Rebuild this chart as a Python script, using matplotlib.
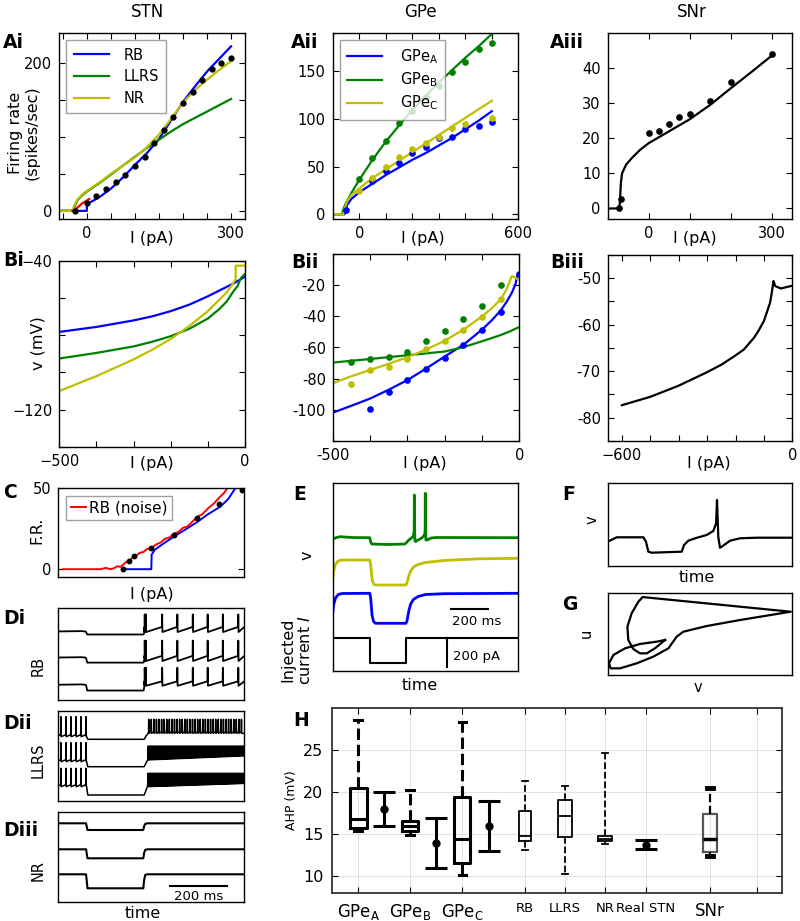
import numpy as np
import matplotlib
matplotlib.use("Agg")
import matplotlib.pyplot as plt

plt.rcParams['font.family'] = ['DejaVu Sans']

# ======================= DATA =======================
# --- Ai: STN f-I curves ---
stn_dot_I = [-25, 0, 20, 40, 60, 80, 100, 120, 140, 160, 180, 200, 220, 240, 260, 280, 300]
stn_dot_F = [0, 10, 20, 30, 39, 49, 60, 73, 91, 109, 127, 146, 160, 177, 192, 200, 206]
rb_I = [-60, 0, 0, 25, 50, 75, 100, 125, 150, 175, 200, 225, 250, 275, 300]
rb_F = [0, 0, 9, 18, 30, 45, 62, 78, 97, 122, 147, 168, 188, 205, 222]
llrs_I = [-60, -28, -25, -20, -10, 0, 25, 50, 75, 100, 125, 150, 175, 200, 250, 300]
llrs_F = [0, 0, 6, 14, 21, 26, 37, 49, 61, 73, 85, 96, 107, 117, 134, 151]
nr_I = [-60, -30, -27, -20, -10, 0, 25, 50, 75, 100, 125, 150, 175, 200, 225, 250, 275, 300]
nr_F = [0, 0, 6, 15, 22, 27, 38, 50, 61, 72, 86, 103, 124, 146, 163, 177, 190, 202]
red_I = [-30, -25, -20, -15, -10, -5, 0, 5]
red_F = [0, 1, 4, 7, 10, 12, 14, 16]

# --- Aii: GPe f-I curves ---
gpe_dot_I_A = [-50, 50, 100, 150, 200, 250, 300, 350, 400, 450, 500]
gpe_dot_F_A = [4, 35, 45, 53.5, 64.5, 70, 80, 81, 89, 93, 97]
gpe_dot_I_B = [0, 50, 100, 150, 200, 250, 300, 350, 400, 450, 500]
gpe_dot_F_B = [37, 58.6, 77, 95.5, 108, 122.8, 134.5, 149, 160, 173, 180]
gpe_dot_I_C = [0, 50, 100, 150, 200, 250, 300, 350, 400, 500]
gpe_dot_F_C = [24, 38, 49.5, 60, 68, 75, 81, 90, 94.5, 101]
gpeA_I = [-100, -55, -52, -45, -30, 0, 50, 100, 150, 200, 250, 300, 350, 400, 450, 500]
gpeA_F = [0, 0, 4, 10, 16, 23, 32, 41, 49, 57, 64, 72, 80, 89, 98, 108]
gpeB_I = [-100, -65, -60, -50, -30, 0, 50, 100, 150, 200, 250, 300, 350, 400, 450, 500]
gpeB_F = [0, 0, 5, 12, 22, 36, 57, 76, 93, 109, 124, 138, 151, 164, 176, 189]
gpeC_I = [-100, -60, -55, -45, -30, 0, 50, 100, 150, 200, 250, 300, 350, 400, 450, 500]
gpeC_F = [0, 0, 6, 14, 20, 27, 38, 47, 56, 65, 74, 83, 92, 101, 110, 119]

# --- Aiii: SNr f-I ---
snr_dot_I = [-72, -68, 0, 25, 50, 75, 100, 150, 200, 300]
snr_dot_F = [0, 2.6, 21.5, 22, 24, 26, 27, 30.5, 36, 44]
snr_I = [-100, -72, -70, -68, -65, -55, -40, -20, 0, 50, 100, 150, 200, 250, 300]
snr_F = [0, 0, 2, 7, 10, 12.5, 14.5, 16.8, 18.6, 22, 25.4, 29.5, 34.2, 38.8, 43.5]

# --- Bi: STN V-I ---
bi_rb_I = [-500, -400, -300, -250, -200, -150, -100, -70, -50, -30, 0]
bi_rb_V = [-78.2, -75.5, -72, -69.8, -67, -63.5, -59, -56, -54, -52, -48.4]
bi_llrs_I = [-500, -400, -300, -250, -200, -150, -100, -70, -50, -30, -20, -15, -10, 0]
bi_llrs_V = [-92.5, -89.5, -86, -83.5, -80.5, -76.5, -71, -66, -62, -56, -53.5, -51, -49, -47]
bi_nr_I = [-500, -400, -300, -250, -200, -150, -100, -70, -50, -30, -25, -25, 0]
bi_nr_V = [-110, -102, -93, -87.8, -82, -75, -67, -61, -57, -51.5, -49.5, -42.5, -42.5]

# --- Bii: GPe V-I ---
bii_dot_I = [-450, -400, -350, -300, -250, -200, -150, -100, -50]
bii_dot_V_B = [-69.5, -67.6, -66.3, -63, -56, -49.4, -41.6, -33.6, -20]
bii_dot_V_C = [-83.8, -74.5, -72.8, -67.4, -61, -55.7, -49, -40.3, -29]
bii_dot_I_A = [-400, -350, -300, -250, -200, -150, -100, -50, 0]
bii_dot_V_A = [-99.8, -88.5, -81, -73.8, -66.5, -58.7, -48.5, -36.9, -13]
bii_A_I = [-500, -450, -400, -350, -300, -250, -200, -150, -100, -75, -50, -35, -20, -10, -5, 0]
bii_A_V = [-102, -97.5, -92.9, -87.2, -81, -73.6, -65.8, -58.3, -48.5, -42.8, -36.2, -31, -24.8, -19, -13, -14]
bii_B_I = [-500, -400, -300, -200, -150, -100, -50, -25, 0]
bii_B_V = [-69.7, -67.4, -65, -62.6, -59.8, -56, -52, -49.6, -46.8]
bii_C_I = [-500, -450, -400, -350, -300, -250, -200, -150, -100, -75, -50, -35, -20, 0]
bii_C_V = [-83, -78.5, -74.5, -70.5, -66.3, -61.3, -55.7, -48.5, -40, -35, -29, -23, -14, -16.5]

# --- Biii: SNr V-I ---
biii_I = [-600, -500, -400, -300, -250, -200, -170, -135, -120, -100, -90, -78, -72, -67, -66,
          -60, -40, 0]
biii_V = [-77.3, -75.5, -73.1, -70.2, -68.6, -66.6, -65.3, -62.8, -61.4, -59.2, -57.4, -55.2,
          -53, -50.9, -50.6, -51.7, -52.2, -51.6]

# --- C: RB with noise ---
c_dot_I = [-25, -20, -15, 0, 20, 40, 60, 80]
c_dot_F = [0, 5, 8.4, 12.8, 21, 31.5, 40, 49]
c_blue_I = [-25, 0, 0.3, 3, 10, 20, 30, 41, 50, 61, 68, 74]
c_blue_F = [0, 0, 9, 12, 15.5, 20.2, 24.5, 29.4, 34, 38.7, 43.5, 50]
c_red_I = [-78, -45, -40, -36, -33, -30, -27, -25, -22, -19, -16, -13, -10, -7, -4, 0, 4, 8,
           12, 16, 20, 24, 28, 32, 36, 41, 45, 50, 55, 60, 64, 68]
c_red_F = [0, 0, 0.8, 0, 0.6, 1.8, 1.5, 2.7, 4.5, 5.2, 7.8, 8.5, 10.2, 10.6, 12.4, 13, 15.2, 16.4,
           18.8, 19.6, 22, 23.1, 25.6, 26.4, 29.3, 32.5, 34, 37.6, 40.5, 44.3, 47, 51]

# --- D: STN traces (time in ms, voltage in arbitrary display units) ---
d_t_end = 650
d_step_on, d_step_off = 100, 300
di_spikes = [302, 306, 363, 416, 470, 522, 575, 629]
di_base = [67.3, 41.7, 15.0]
di_low = [64.3, 36.7, 9.3]
di_peak = [84.0, 58.3, 31.7]
di_trough = [66.7, 38.3, 14.0]
di_pre = [71.7, 43.3, 18.3]

dii_pre_spikes = [9, 27, 44, 62, 79, 97]
dii_pre_trough = [64.3, 39.3, 14.3]
dii_pre_peak = [84.3, 58.3, 32.7]
dii_low = [61.7, 34.3, 6.0]
dii_post_start = [316, 314, 313]
dii_post_isi = [9.0, 4.5, 3.4]
dii_post_trough_start = [67.7, 41.0, 14.3]
dii_post_trough_end = [67.7, 45.0, 17.5]
dii_post_peak = [81.7, 55.0, 27.7]

diii_base = [79.0, 53.0, 28.0]
diii_low = [72.3, 44.0, 14.0]

# --- E: GPe traces ---
e_green_t = [0, 20, 40, 100, 200, 203, 210, 300, 390, 398, 410, 425, 435, 439, 440, 441, 443, 447,
             460, 480, 495, 498, 499, 500, 502, 510, 530, 560, 1000]
e_green_v = [131.7, 133.5, 134.3, 133.5, 133.3, 130, 127, 126.5, 127, 128.5, 131, 133, 135, 140, 176,
             150, 130, 129.5, 131, 133, 136, 140, 177.7, 150, 131, 131, 133, 133.5, 133.3]
e_yellow_t = [0, 5, 15, 30, 50, 200, 205, 212, 220, 230, 395, 400, 410, 420, 435, 460, 500, 600, 700, 800, 1000]
e_yellow_v = [91, 100, 107, 110, 111, 111, 105, 92, 87, 86, 86, 88, 95, 100, 104, 106.5, 108.5, 110.5, 111.5, 112.2, 112.7]
e_blue_t = [0, 5, 15, 30, 50, 200, 205, 212, 220, 230, 395, 400, 410, 420, 435, 460, 500, 600, 1000]
e_blue_v = [57.7, 66, 73, 76.5, 77.5, 77.7, 72, 56, 49.5, 47.7, 47.7, 50, 60, 67, 71.5, 74.5, 76.5, 77.3, 77.7]
e_cur_t = [0, 200, 200, 393, 393, 1000]
e_cur_v = [32.7, 32.7, 8.3, 8.3, 32.7, 32.7]

# --- F: SNr trace ---
f_t = [0, 4.9, 19.4, 20.8, 22.1, 23.9, 40.2, 41.5, 43.8, 47.5, 53.8, 57.4, 58.9, 59.4, 60.1, 61,
       62.5, 66.5, 71.9, 81, 100]
f_v = [24, 28.4, 28.4, 24, 14, 13, 14, 20.7, 25, 27.4, 30.7, 34.7, 42.4, 65.7, 29, 18, 19.7, 25,
       27.4, 28, 28]

# --- G: phase plane ---
g_v = [31.2, 26.6, 17.6, 9.4, 3.1, 0.7, 1.6, 6.7, 15.8, 24.8, 33, 37.5, 41.1, 53.8, 71.9, 99.5,
       19, 16.7, 13, 10.7, 11.2, 13.9, 17.6, 21.2, 25.7, 31.2]
g_u = [42.5, 40.5, 37.7, 32.4, 24.3, 14.2, 8.1, 8.1, 14.2, 22.3, 32.4, 46.6, 52.6, 59.5, 66.8, 76.9,
       94.7, 89.1, 74.9, 58.7, 42.5, 31.6, 26.3, 26.3, 32.4, 42.5]

# --- H: AHP ---
h_tick_pos = [0.59, 1.74, 2.90, 4.29, 5.18, 6.07, 6.97, 8.39, 9.43]
h_tick_lab = ['GPe$_\\mathrm{A}$', 'GPe$_\\mathrm{B}$', 'GPe$_\\mathrm{C}$', 'RB', 'LLRS', 'NR',
              'Real STN', 'SNr', '']
h_box_pos = [0.59, 1.74, 2.90, 4.29, 5.18, 6.07, 8.39]
h_whislo = [15.45, 14.9, 10.2, 13.1, 10.3, 13.85, 12.4]
h_q1 = [15.8, 15.4, 11.6, 14.2, 14.7, 14.25, 12.9]
h_med = [16.8, 15.95, 14.5, 14.8, 17.2, 14.5, 14.5]
h_q3 = [20.5, 16.6, 19.5, 17.8, 19.15, 14.85, 17.4]
h_whishi = [28.6, 20.3, 28.4, 21.4, 20.8, 24.7, 20.5]
h_err_pos = [1.16, 2.31, 3.48, 6.97]
h_err_mean = [18.0, 14.0, 16.0, 13.8]
h_err_sd = [2.0, 3.0, 3.0, 0.5]

# ======================= FIGURE =======================
W, H = 800, 921
fig = plt.figure(figsize=(8, 9.21), dpi=100)

def px_ax(x0, y0, x1, y1):
    return fig.add_axes([x0 / W, 1 - y1 / H, (x1 - x0) / W, (y1 - y0) / H])

def ftext(x, y, s, **kw):
    kw.setdefault('ha', 'center')
    kw.setdefault('va', 'center')
    fig.text(x / W, 1 - y / H, s, **kw)

def style(ax, lw=1.0, ls=10.5):
    for sp in ax.spines.values():
        sp.set_linewidth(lw)
    ax.tick_params(direction='in', top=True, right=True, length=4, width=0.8,
                   labelsize=ls, pad=5)

def set_ticks(ax, xt=None, xl=None, yt=None, yl=None):
    if xt is not None:
        ax.set_xticks(xt)
        ax.set_xticklabels([xl.get(t, '') for t in xt])
    else:
        ax.set_xticks([])
    if yt is not None:
        ax.set_yticks(yt)
        ax.set_yticklabels([yl.get(t, '') for t in yt])
    else:
        ax.set_yticks([])

B, G, Y, R = '#0000ff', '#008000', '#bfbf00', '#ff0000'
MINUS = '\u2212'
LW = 1.6

# ---- Ai ----
ax = px_ax(59, 33, 245, 219)
style(ax)
ax.plot(rb_I, rb_F, color=B, lw=LW, label='RB')
ax.plot(llrs_I, llrs_F, color=G, lw=LW, label='LLRS')
ax.plot(nr_I, nr_F, color=Y, lw=LW, label='NR')
ax.plot(red_I, red_F, color=R, lw=LW)
ax.plot(stn_dot_I, stn_dot_F, 'o', color='k', ms=3.5)
ax.set_xlim(-58, 329)
ax.set_ylim(-11, 240)
set_ticks(ax, list(range(-50, 301, 50)), {0: '0', 300: '300'},
          list(range(0, 201, 50)), {0: '0', 200: '200'})
leg = ax.legend(loc='upper left', fontsize=10.5, handlelength=2.4, borderpad=0.5,
                labelspacing=0.45, fancybox=False, handletextpad=1.0)
leg.get_frame().set_edgecolor('#888888')

# ---- Aii ----
ax = px_ax(332.7, 33, 518.3, 219)
style(ax)
ax.plot(gpeA_I, gpeA_F, color=B, lw=LW, label='GPe$_\\mathrm{A}$')
ax.plot(gpeB_I, gpeB_F, color=G, lw=LW, label='GPe$_\\mathrm{B}$')
ax.plot(gpeC_I, gpeC_F, color=Y, lw=LW, label='GPe$_\\mathrm{C}$')
ax.plot(gpe_dot_I_A, gpe_dot_F_A, 'o', color=B, ms=3.8)
ax.plot(gpe_dot_I_B, gpe_dot_F_B, 'o', color=G, ms=3.8)
ax.plot(gpe_dot_I_C, gpe_dot_F_C, 'o', color=Y, ms=3.8)
ax.set_xlim(-100, 600)
ax.set_ylim(-5, 190)
set_ticks(ax, list(range(-100, 601, 100)), {0: '0', 600: '600'},
          [0, 50, 100, 150], {0: '0', 50: '50', 100: '100', 150: '150'})
leg = ax.legend(loc='upper left', fontsize=10.5, handlelength=2.4, borderpad=0.5,
                labelspacing=0.3, fancybox=False, handletextpad=1.2)
leg.get_frame().set_edgecolor('#888888')

# ---- Aiii ----
ax = px_ax(607.7, 33, 792, 219)
style(ax)
ax.plot(snr_I, snr_F, color='k', lw=LW)
ax.plot(snr_dot_I, snr_dot_F, 'o', color='k', ms=3.8)
ax.set_xlim(-100, 350)
ax.set_ylim(-3, 50)
set_ticks(ax, [-100, 0, 100, 200, 300], {0: '0', 300: '300'},
          [0, 10, 20, 30, 40], {0: '0', 10: '10', 20: '20', 30: '30', 40: '40'})

# ---- Bi ----
ax = px_ax(59.3, 261, 245, 446.7)
style(ax)
ax.plot(bi_rb_I, bi_rb_V, color=B, lw=LW)
ax.plot(bi_llrs_I, bi_llrs_V, color=G, lw=LW)
ax.plot(bi_nr_I, bi_nr_V, color=Y, lw=LW)
ax.set_xlim(-500, 0)
ax.set_ylim(-140, -40)
set_ticks(ax, list(range(-500, 1, 100)), {-500: MINUS + '500', 0: '0'},
          list(range(-140, -39, 20)), {-40: MINUS + '40', -120: MINUS + '120'})

# ---- Bii ----
ax = px_ax(332.7, 254.3, 519.3, 440.7)
style(ax)
ax.plot(bii_A_I, bii_A_V, color=B, lw=LW)
ax.plot(bii_B_I, bii_B_V, color=G, lw=LW)
ax.plot(bii_C_I, bii_C_V, color=Y, lw=LW)
ax.plot(bii_dot_I_A, bii_dot_V_A, 'o', color=B, ms=3.8)
ax.plot(bii_dot_I, bii_dot_V_B, 'o', color=G, ms=3.8)
ax.plot(bii_dot_I, bii_dot_V_C, 'o', color=Y, ms=3.8)
ax.set_xlim(-500, 0)
ax.set_ylim(-120, 0)
set_ticks(ax, list(range(-500, 1, 100)), {-500: '-500', 0: '0'},
          list(range(-120, 1, 20)), {v: '%d' % v for v in [-20, -40, -60, -80, -100]})

# ---- Biii ----
ax = px_ax(607.7, 255, 792.3, 441)
style(ax)
ax.plot(biii_I, biii_V, color='k', lw=LW)
ax.set_xlim(-650, 0)
ax.set_ylim(-85, -45)
set_ticks(ax, list(range(-600, 1, 100)), {-600: MINUS + '600', 0: '0'},
          list(range(-85, -44, 5)), {v: '%d' % v for v in [-50, -60, -70, -80]})

# ---- C ----
ax = px_ax(58.3, 488.3, 244.3, 577.3)
style(ax)
ax.plot(c_blue_I, c_blue_F, color=B, lw=1.4)
ax.plot(c_red_I, c_red_F, color=R, lw=1.4, label='RB (noise)')
ax.plot(c_dot_I, c_dot_F, 'o', color='k', ms=3.2)
ax.set_xlim(-82, 82)
ax.set_ylim(-5, 50)
set_ticks(ax, None, None, [0, 50], {0: '0', 50: '50'})
leg = ax.legend(loc='upper left', fontsize=11, handlelength=1.0, handletextpad=0.2,
                borderpad=0.3, fancybox=False)
leg.get_frame().set_edgecolor('#888888')

# ---- D helpers ----
def build(points, spikes=(), pre=None, peak=None, trough=None):
    pts = list(points)
    for i, s in enumerate(spikes):
        p = pre[i] if np.iterable(pre) else pre
        k = peak[i] if np.iterable(peak) else peak
        tr = trough[i] if np.iterable(trough) else trough
        pts += [(s - 0.7, p), (s, k), (s + 0.9, tr)]
    pts.sort(key=lambda q: q[0])
    return [q[0] for q in pts], [q[1] for q in pts]

# ---- Di ----
ax = px_ax(58.3, 608.3, 244.3, 700)
style(ax)
for k in range(3):
    b, lo = di_base[k], di_low[k]
    pts = [(0, b), (80, b + 0.3), (94, b), (97, b - 0.5), (101, lo), (d_step_on + 1, lo),
           (d_step_off - 2, lo), (d_step_off, lo + 0.5 * (b - lo)), (d_step_off + 1.5, b),
           (d_t_end, di_pre[k])]
    t, v = build(pts, di_spikes, di_pre[k], di_peak[k], di_trough[k])
    ax.plot(t, v, color='k', lw=1.3)
ax.set_xlim(0, d_t_end)
ax.set_ylim(0, 90)
set_ticks(ax)

# ---- Dii ----
ax = px_ax(58.3, 711, 244.3, 801)
style(ax)
for k in range(3):
    lo = dii_low[k]
    post_sp = list(np.arange(dii_post_start[k], d_t_end - 2, dii_post_isi[k]))
    n = len(post_sp)
    post_tr = list(np.linspace(dii_post_trough_start[k], dii_post_trough_end[k], n))
    spikes = dii_pre_spikes + post_sp
    pre = [dii_pre_trough[k] + 2] * len(dii_pre_spikes) + [x + 1.5 for x in post_tr]
    peak = [dii_pre_peak[k]] * len(dii_pre_spikes) + [dii_post_peak[k]] * n
    trough = [dii_pre_trough[k]] * len(dii_pre_spikes) + post_tr
    pts = [(0, dii_pre_trough[k] + 1), (99, dii_pre_trough[k]), (103, lo), (d_step_off, lo),
           (d_step_off + 6, lo + 0.5 * (dii_post_trough_start[k] - lo)),
           (dii_post_start[k] - 2, dii_post_trough_start[k]), (d_t_end, post_tr[-1])]
    t, v = build(pts, spikes, pre, peak, trough)
    ax.plot(t, v, color='k', lw=1.1)
ax.set_xlim(0, d_t_end)
ax.set_ylim(0, 90)
set_ticks(ax)

# ---- Diii ----
ax = px_ax(58.3, 812.3, 244.3, 902.3)
style(ax)
for k in range(3):
    b, lo = diii_base[k], diii_low[k]
    t = [0, 97, 102, d_step_off - 3, d_step_off, d_step_off + 4, d_step_off + 12, d_t_end]
    v = [b, b, lo, lo, lo + 0.6 * (b - lo), b - 0.5, b, b]
    ax.plot(t, v, color='k', lw=1.5)
ax.plot([390, 590], [16.3, 16.3], color='k', lw=1.5)
ax.text(490, 6.3, '200 ms', ha='center', va='center', fontsize=9.5)
ax.set_xlim(0, d_t_end)
ax.set_ylim(0, 90)
set_ticks(ax)

# ---- E ----
ax = px_ax(332.7, 483.3, 518.3, 671)
style(ax)
ax.plot(e_green_t, e_green_v, color=G, lw=2)
ax.plot(e_yellow_t, e_yellow_v, color=Y, lw=2)
ax.plot(e_blue_t, e_blue_v, color=B, lw=2)
ax.plot(e_cur_t, e_cur_v, color='k', lw=1.5)
ax.plot([640, 838], [61.7, 61.7], color='k', lw=1.5)
ax.text(775, 49.3, '200 ms', ha='center', va='center', fontsize=9.5)
ax.plot([614, 614], [4.3, 32.7], color='k', lw=1.5)
ax.text(775, 14.3, '200 pA', ha='center', va='center', fontsize=9.5)
ax.set_xlim(0, 1000)
ax.set_ylim(0, 187.7)
set_ticks(ax)

# ---- F ----
ax = px_ax(607.7, 482.7, 791.7, 565.7)
style(ax)
ax.plot(f_t, f_v, color='k', lw=1.6)
ax.set_xlim(0, 100)
ax.set_ylim(0, 83)
set_ticks(ax)

# ---- G ----
ax = px_ax(607.7, 592.7, 791.7, 675)
style(ax)
ax.plot(g_v, g_u, color='k', lw=1.6)
ax.set_xlim(0, 100)
ax.set_ylim(0, 100)
set_ticks(ax)

# ---- H ----
ax = px_ax(331.7, 708.3, 782.3, 893.3)
for sp in ax.spines.values():
    sp.set_linewidth(1.3)
    sp.set_color('#333333')
ax.tick_params(direction='in', top=True, right=True, length=4, width=0.8, labelsize=11.5, pad=6)
ax.set_axisbelow(True)
ax.grid(True, color='#dddddd', lw=0.6)
box_w = [0.38, 0.36, 0.36, 0.25, 0.30, 0.30, 0.30]
box_lw = [2.2, 2.2, 2.2, 1.3, 1.3, 1.3, 1.6]
box_col = ['k', 'k', 'k', 'k', 'k', 'k', '#555555']
for i in range(len(h_box_pos)):
    st = [dict(med=h_med[i], q1=h_q1[i], q3=h_q3[i], whislo=h_whislo[i], whishi=h_whishi[i],
               fliers=[])]
    lw = box_lw[i]
    ax.bxp(st, positions=[h_box_pos[i]], widths=box_w[i], showfliers=False,
           capwidths=box_w[i] * 0.45,
           boxprops=dict(color=box_col[i], lw=lw),
           whiskerprops=dict(color='k', lw=lw, ls='--'),
           capprops=dict(color='k', lw=lw if i < 6 else 3.5),
           medianprops=dict(color='k', lw=lw if i < 6 else 2.5))
ax.errorbar(h_err_pos, h_err_mean, yerr=h_err_sd, fmt='o', color='k', ms=5, lw=2.2,
            capsize=8, capthick=2.2)
ax.set_xlim(0, 10)
ax.set_ylim(8, 30)
ax.set_yticks([10, 15, 20, 25])
ax.set_xticks(h_tick_pos)
ax.set_xticklabels(h_tick_lab)
for lab, fs in zip(ax.get_xticklabels(), [12, 12, 12, 9.5, 9.5, 9.5, 9.5, 12, 10]):
    lab.set_fontsize(fs)

# ======================= TEXT =======================
for s, x in [('STN', 148), ('GPe', 420), ('SNr', 692)]:
    ftext(x, 12, s, fontsize=12)

bold = dict(fontsize=13.5, fontweight='bold', ha='left')
for s, x, y in [('Ai', 3, 43), ('Aii', 291, 43), ('Aiii', 550, 43), ('Bi', 3, 260),
                ('Bii', 291, 263), ('Biii', 550, 263), ('C', 3, 492), ('Di', 3, 619),
                ('Dii', 3, 723), ('Diii', 3, 830), ('E', 293, 494), ('F', 562, 494),
                ('G', 562, 604), ('H', 293, 720)]:
    ftext(x, y, s, **bold)

lab = dict(fontsize=11.5)
ftext(24, 133, 'Firing rate\n(spikes/sec)', rotation=90, linespacing=1.15, **lab)
for x, y in [(151.7, 238), (423, 238), (695, 238), (151.7, 463), (425, 463), (709, 463),
             (151.7, 595)]:
    ftext(x, y, 'I (pA)', **lab)
ftext(38, 343, 'v (mV)', rotation=90, **lab)
ftext(36.7, 530, 'F.R.', rotation=90, **lab)
ftext(38, 666, 'RB', rotation=90, fontsize=10.5)
ftext(38, 760, 'LLRS', rotation=90, fontsize=10.5)
ftext(38, 870, 'NR', rotation=90, fontsize=10.5)
ftext(143, 913, 'time', **lab)
ftext(306.7, 555, 'v', rotation=90, **lab)
ftext(297, 650, 'Injected\ncurrent $I$', rotation=90, linespacing=1.1, **lab)
ftext(420, 685, 'time', **lab)
ftext(591.7, 520, 'v', rotation=90, fontsize=10.5)
ftext(696.7, 577, 'time', **lab)
ftext(586.7, 633, 'u', rotation=90, fontsize=10.5)
ftext(698, 687, 'v', fontsize=10.5)
ftext(291, 800, 'AHP (mV)', rotation=90, fontsize=9)

fig.savefig('out.png', dpi=100)
